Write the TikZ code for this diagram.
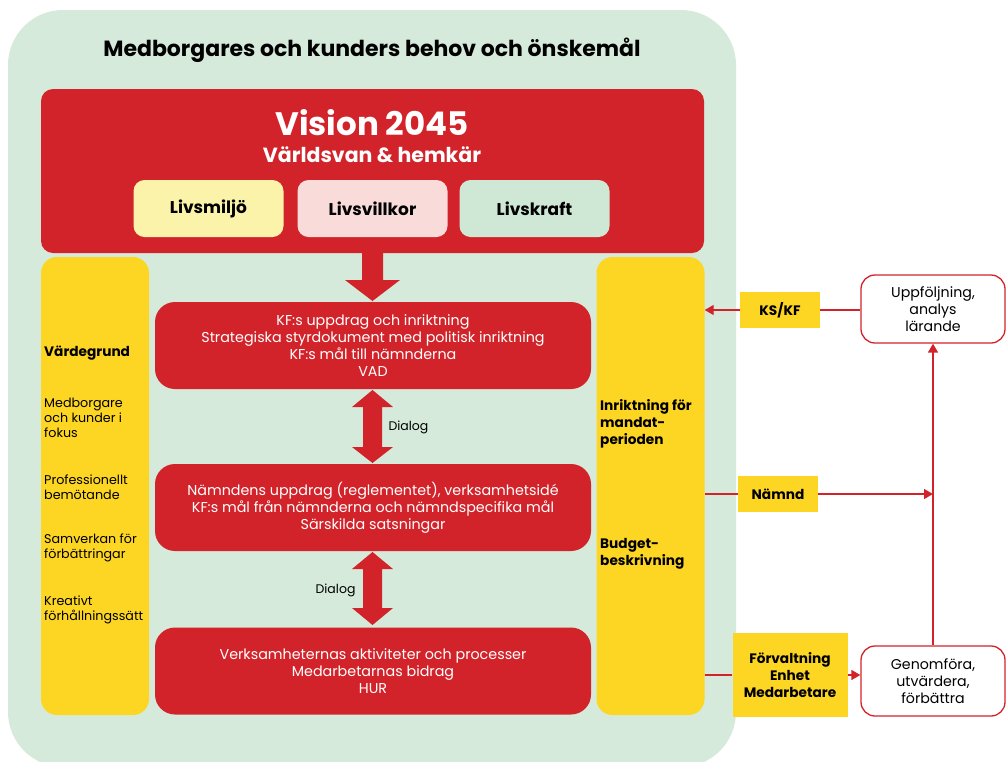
\documentclass[tikz,border=0pt]{standalone}
\usepackage{fontspec}
\setmainfont{Poppins}
\usetikzlibrary{arrows.meta}

\definecolor{roed}{HTML}{D2232A}
\definecolor{gul}{HTML}{FDD523}
\definecolor{bakgrund}{HTML}{D5EADA}
\definecolor{miljo}{HTML}{FAF3A9}
\definecolor{villkor}{HTML}{F9DBDA}
\definecolor{kraft}{HTML}{CFE7D5}

\begin{document}
\begin{tikzpicture}[
    x=1pt,
    y=-1pt,
    line join=round,
    rodruta/.style={
        fill=roed,
        rounded corners=20pt,
        text=white,
        align=center,
        minimum width=436pt,
        minimum height=87pt,
        font=\fontsize{14.3}{17}\selectfont
    },
    livsruta/.style={
        rounded corners=11pt,
        minimum width=150pt,
        minimum height=57pt,
        font=\bfseries\fontsize{17}{20}\selectfont
    },
    pelare/.style={
        fill=gul,
        rounded corners=16pt,
        minimum width=108pt,
        minimum height=458pt
    },
    pelartext/.style={
        anchor=west,
        align=left,
        inner sep=0pt,
        font=\fontsize{12.7}{15}\selectfont
    },
    gulruta/.style={
        fill=gul,
        align=center,
        font=\bfseries\fontsize{13.7}{17}\selectfont
    },
    vitruta/.style={
        draw=roed,
        line width=1.3pt,
        fill=white,
        rounded corners=14pt,
        align=center,
        minimum width=144pt,
        font=\fontsize{14.2}{17}\selectfont
    },
    linje/.style={
        draw=roed,
        line width=1.4pt
    },
    pil/.style={
        linje,
        -{Triangle[length=9pt,width=10pt]}
    }
]

\useasboundingbox (0,0) rectangle (1007,761);
\clip (0,0) rectangle (1007,761);

% =================================================
% Bakgrund och rubrik
% =================================================

\fill[bakgrund, rounded corners=55pt] (8,10) rectangle (736,767);

\node[font=\bfseries\fontsize{22}{26}\selectfont] (rubrik) at (372,50)
    {Medborgares och kunders behov och önskemål};

% =================================================
% Vision
% =================================================

\node[fill=roed, rounded corners=12pt, minimum width=663pt,
      minimum height=164pt] (vision) at (372.5,171) {};

\node[text=white, font=\bfseries\fontsize{32.5}{38}\selectfont] (visionrubrik)
    at (372,123) {Vision 2045};
\node[text=white, font=\bfseries\fontsize{20.5}{24}\selectfont] (visionunder)
    at (372,155) {Världsvan \& hemkär};

\node[livsruta, fill=miljo] (livsmiljo) at (208.5,208.5) {Livsmiljö};
\node[livsruta, fill=villkor] (livsvillkor) at (372.5,208.5) {Livsvillkor};
\node[livsruta, fill=kraft] (livskraft) at (534.5,208.5) {Livskraft};

% Pil ned från visionen
\fill[roed] (362,253) -- (383,253) -- (383,280) -- (400,280)
    -- (372.5,301) -- (345,280) -- (362,280) -- cycle;

% =================================================
% Pelare till vänster och höger
% =================================================

\node[pelare] (vardegrund) at (95,486) {};

\node[pelartext, font=\bfseries\fontsize{13.7}{16}\selectfont] (vg)
    at (44,353) {Värdegrund};
\node[pelartext] (vg1) at (44,418) {Medborgare\\och kunder i\\fokus};
\node[pelartext] (vg2) at (44,487) {Professionellt\\bemötande};
\node[pelartext] (vg3) at (44,548) {Samverkan för\\förbättringar};
\node[pelartext] (vg4) at (44,610) {Kreativt\\förhållningssätt};

\node[pelare] (inriktning) at (650.5,486) {};

\node[pelartext, font=\bfseries\fontsize{13.7}{17}\selectfont] (inr1)
    at (600,424) {Inriktning för\\mandat-\\perioden};
\node[pelartext, font=\bfseries\fontsize{13.7}{17}\selectfont] (inr2)
    at (600,554) {Budget-\\beskrivning};

% =================================================
% Mittens tre nivåer
% =================================================

\node[rodruta] (vad) at (373,345.5)
    {KF:s uppdrag och inriktning\\
     Strategiska styrdokument med politisk inriktning\\
     KF:s mål till nämnderna\\
     VAD};

\node[rodruta] (namndniva) at (373,507.5)
    {Nämndens uppdrag (reglementet), verksamhetsidé\\
     KF:s mål från nämnderna och nämndspecifika mål\\
     Särskilda satsningar};

\node[rodruta] (hur) at (373,671)
    {Verksamheternas aktiviteter och processer\\
     Medarbetarnas bidrag\\
     HUR};

% Dubbelpilar för dialog
\fill[roed] (372.5,390) -- (393,407) -- (382,407) -- (382,447)
    -- (393,447) -- (372.5,463) -- (352,447) -- (363,447)
    -- (363,407) -- (352,407) -- cycle;
\node[anchor=west, font=\fontsize{12.5}{15}\selectfont] (dialog1)
    at (385,427) {Dialog};

\fill[roed] (372.5,552) -- (393,569) -- (382,569) -- (382,608)
    -- (393,608) -- (372.5,625) -- (352,608) -- (363,608)
    -- (363,569) -- (352,569) -- cycle;
\node[anchor=east, font=\fontsize{12.5}{15}\selectfont] (dialog2)
    at (359,590) {Dialog};

% =================================================
% Uppföljningskedjan till höger
% =================================================

\node[gulruta, minimum width=80pt, minimum height=36pt] (kskf)
    at (780,310) {KS/KF};
\node[gulruta, minimum width=80pt, minimum height=36pt] (namnd)
    at (778,494) {Nämnd};
\node[gulruta, minimum width=115pt, minimum height=84pt] (forv)
    at (790,675) {Förvaltning\\Enhet\\Medarbetare};

\node[vitruta, minimum height=68pt] (uppfoljning) at (933,309)
    {Uppföljning,\\analys\\lärande};
\node[vitruta, minimum height=70pt] (genomfora) at (933,681)
    {Genomföra,\\utvärdera,\\förbättra};

\draw[linje] (uppfoljning.west |- kskf) -- (kskf.east);
\draw[pil] (kskf.west) -- (kskf.west -| inriktning.east);

\draw[linje] (namnd.west -| inriktning.east) -- (namnd.west);
\draw[pil] (namnd.east) -- (namnd.east -| uppfoljning.south);

\draw[linje] (forv.west -| inriktning.east) -- (forv.west);
\draw[pil] (forv.east) -- (forv.east -| genomfora.west);

\draw[pil] (genomfora.north) -- (uppfoljning.south);

\end{tikzpicture}
\end{document}
